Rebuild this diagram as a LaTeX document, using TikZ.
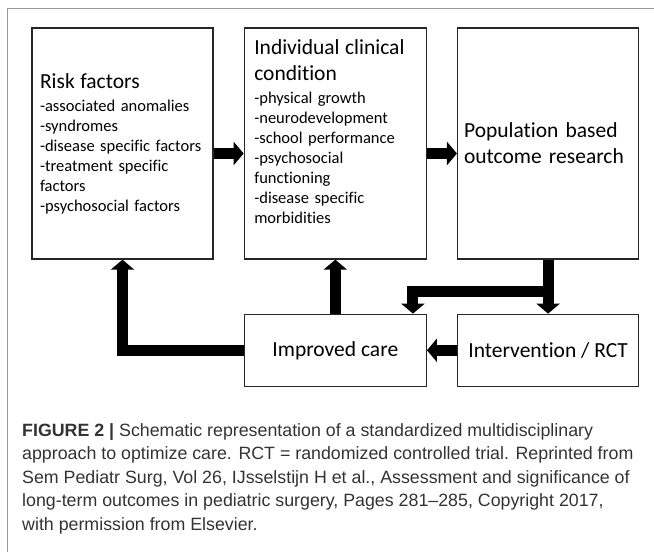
\documentclass[tikz,border=0pt]{standalone}
\usepackage{fontspec}
\setmainfont{Carlito}[Ligatures=NoCommon]
\newfontfamily\capfont{Liberation Sans}
\usetikzlibrary{positioning,arrows.meta}

\newcommand{\headfont}{\fontsize{21.5}{26}\selectfont}
\newcommand{\itemfont}{\fontsize{16.5}{20}\selectfont}

\tikzset{
  block/.style={
    rectangle,
    draw=black!85,
    line width=1.3pt,
    minimum height=231pt,
    inner sep=0pt,
    font=\itemfont,
    align=left},
  lowblock/.style={
    rectangle,
    draw=black!85,
    line width=1.3pt,
    minimum width=182pt,
    minimum height=72pt,
    font=\headfont},
  fat/.style={line width=11pt, -{Triangle[width=23pt,length=10pt]}},
}

\begin{document}
\begin{tikzpicture}[x=1pt,y=-1pt]
  \useasboundingbox (0,0) rectangle (654,552);
  \draw[gray!80, line width=1.4pt] (7.3,552) -- (7.3,8.3) -- (654,8.3);

  \node[
  block,
  minimum width=181pt,
  text width=165pt] (risk) at (122.5,143.5) {{\headfont Risk factors}\\[3pt]
    -associated anomalies\\ -syndromes\\ -disease specific factors\\
    -treatment specific\\ factors\\ -psychosocial factors};

  \node[
  block,
  right=30pt of risk,
  minimum width=182pt,
  text width=162pt] (mid) {{\headfont Individual clinical}\\[6pt]
    {\headfont condition}\\[3pt]
    -physical growth\\ -neurodevelopment\\ -school performance\\
    -psychosocial\\ functioning\\ -disease specific\\ morbidities\\[4pt]\mbox{}};

  \node[
  block,
  right=30pt of mid,
  minimum width=181pt,
  text width=168pt,
  font=\headfont] (pop) {Population based\\ outcome research};

  \node[lowblock, below=54pt of mid] (care) {Improved care};
  \node[lowblock, right=30pt of care, minimum width=181pt] (interv) {Intervention / RCT};

  \coordinate (split) at ([yshift=-32pt]pop.south);

  \draw[fat] ([yshift=-10pt]risk.east)--([yshift=-10pt]mid.west);
  \draw[fat] ([yshift=-10pt]mid.east)--([yshift=-10pt]pop.west);
  \draw[fat] (pop.south)--(interv.north);
  \draw[fat] (split) -| ([xshift=-14pt]care.north east);
  \draw[fat] (interv.west)--(care.east);
  \draw[fat] (care.north)--(mid.south);
  \draw[fat] (care.west) -| (risk.south);

  \node[
  anchor=north west,
  inner sep=0pt,
  align=left,
  text=black!80,
  font=\capfont\fontsize{17.8}{23.5}\selectfont] (caption) at (22,423)
  {\textbf{FIGURE 2 |} Schematic representation of a standardized multidisciplinary\\
    approach to optimize care. RCT = randomized controlled trial. Reprinted from\\
    Sem Pediatr Surg, Vol 26, IJsselstijn H et al., Assessment and significance of\\
    long-term outcomes in pediatric surgery, Pages 281–285, Copyright 2017,\\
    with permission from Elsevier.};
\end{tikzpicture}
\end{document}
